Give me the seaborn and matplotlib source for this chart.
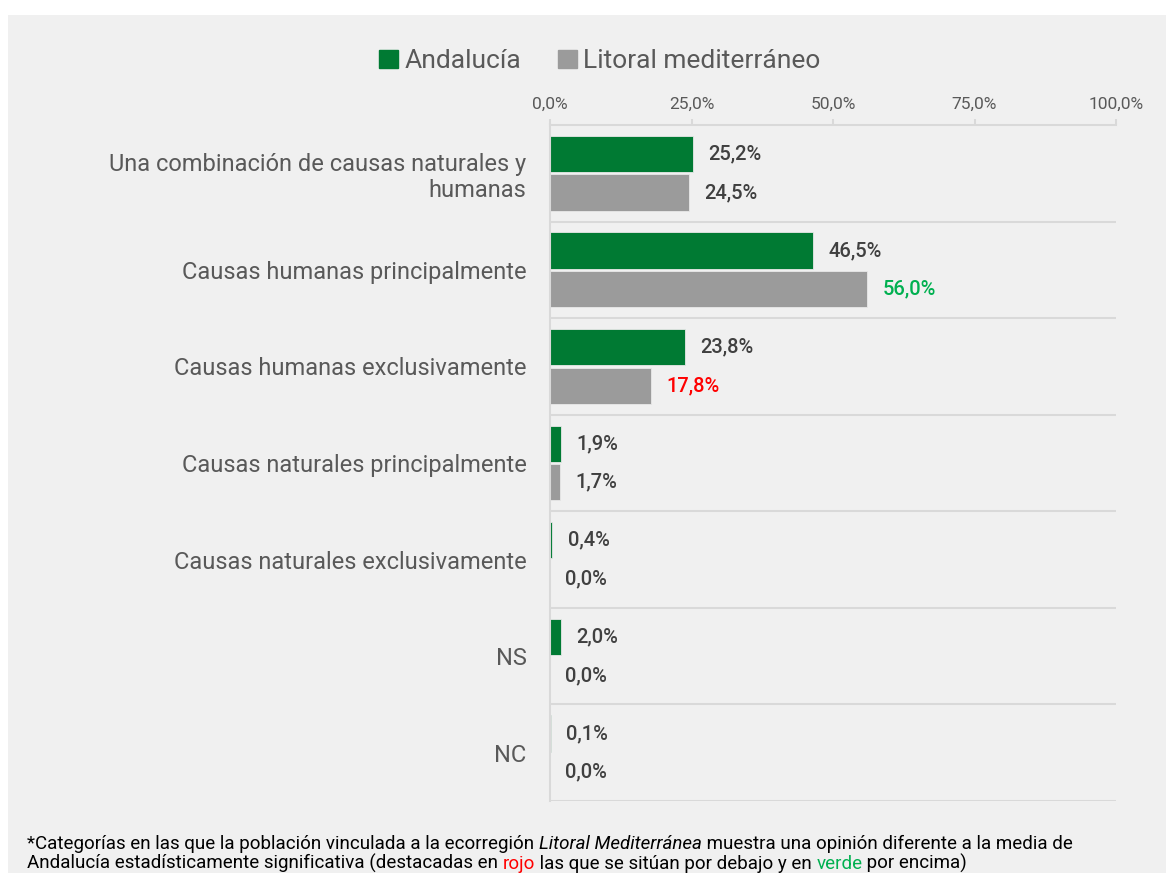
import matplotlib.pyplot as plt
import pandas as pd
import seaborn as sns
from matplotlib.patches import Patch, Rectangle

CATEGORIES = [
    "Una combinación de causas naturales y\nhumanas",
    "Causas humanas principalmente",
    "Causas humanas exclusivamente",
    "Causas naturales principalmente",
    "Causas naturales exclusivamente",
    "NS",
    "NC",
]
SERIES = ["Andalucía", "Litoral mediterráneo"]
ANDALUCIA = [25.2, 46.5, 23.8, 1.9, 0.4, 2.0, 0.1]
LITORAL = [24.5, 56.0, 17.8, 1.7, 0.0, 0.0, 0.0]
# Litoral vs Andalucía: 1 = significantly above, -1 = below, 0 = no difference
LITORAL_SIG = [0, 1, -1, 0, 0, 0, 0]
TICKS = [0, 25, 50, 75, 100]

GREEN = "#007a33"
GREY = "#9b9b9b"
BG = "#f0f0f0"
LINE = "#d9d9d9"
TXT = "#595959"
VAL = "#404040"
SIG_COLORS = {1: "#00b050", -1: "#ff0000", 0: VAL}

sns.set_theme(style="white")
plt.rcParams["font.family"] = ["Roboto", "DejaVu Sans"]

df = pd.DataFrame({
    "cat": CATEGORIES * 2,
    "serie": [SERIES[0]] * len(CATEGORIES) + [SERIES[1]] * len(CATEGORIES),
    "value": ANDALUCIA + LITORAL,
})

fig = plt.figure(figsize=(11.66, 8.73), dpi=100, facecolor="white")
fig.patches.append(Rectangle((8 / 1166, 0), 1, 1 - 15 / 873, transform=fig.transFigure,
                             facecolor=BG, edgecolor="none", zorder=-10))
ax = fig.add_axes([550 / 1166, 1 - 801 / 873, 566 / 1166, (801 - 125) / 873])
ax.set_facecolor(BG)

sns.barplot(data=df, y="cat", x="value", hue="serie", orient="h",
            palette=[GREEN, GREY], saturation=1, width=0.8, gap=0.06,
            legend=False, edgecolor="#e8e8e8", linewidth=0.6, ax=ax)

ax.set_xlim(0, 100)
ax.set_ylim(len(CATEGORIES) - 0.5, -0.5)
ax.set_xlabel("")
ax.set_ylabel("")
ax.xaxis.tick_top()
ax.set_xticks(TICKS)
ax.set_xticklabels([f"{t:.1f}%".replace(".", ",") for t in TICKS])
ax.tick_params(axis="x", length=4.5, width=1.5, color=LINE, labelcolor=TXT,
               labelsize=12.5, pad=5)
ax.tick_params(axis="y", length=0, labelcolor=TXT, labelsize=17, pad=17)
for side in ["right", "bottom"]:
    ax.spines[side].set_visible(False)
for side in ["top", "left"]:
    ax.spines[side].set_color(LINE)
    ax.spines[side].set_linewidth(1.5)
ax.hlines([i + 0.5 for i in range(len(CATEGORIES))], 0, 100, colors=LINE,
          linewidth=1.5, zorder=0)

# value labels
for container, values, sig in zip(ax.containers, [ANDALUCIA, LITORAL],
                                  [[0] * len(CATEGORIES), LITORAL_SIG]):
    labels = [f"{v:.1f}%".replace(".", ",") for v in values]
    texts = ax.bar_label(container, labels=labels, padding=11, fontsize=14.5,
                         fontweight="medium", color=VAL)
    for t, s in zip(texts, sig):
        t.set_color(SIG_COLORS[s])

fig.legend(handles=[Patch(color=GREEN), Patch(color=GREY)], labels=SERIES,
           loc="center", bbox_to_anchor=(600 / 1166, 1 - 61 / 873), ncol=2,
           frameon=False, fontsize=19, labelcolor=TXT, handlelength=0.7,
           handleheight=0.7, handletextpad=0.25, columnspacing=1.4)

# footnote with mixed styles
def chain(pieces, x, y):
    prev = fig.text(x, y, pieces[0][0], fontsize=13.5, color="black",
                    va="bottom", ha="left", **pieces[0][1])
    for txt, kw in pieces[1:]:
        prev = ax.annotate(txt, xy=(1, 0), xycoords=prev, va="bottom", ha="left",
                           fontsize=13.5, color=kw.pop("color", "black"),
                           annotation_clip=False, **kw)

chain([("*Categorías en las que la población vinculada a la ecorregión ", {}),
       ("Litoral Mediterránea", {"style": "italic"}),
       (" muestra una opinión diferente a la media de", {})],
      27 / 1166, 1 - 853 / 873)
chain([("Andalucía estadísticamente significativa (destacadas en ", {}),
       ("rojo", {"color": "#ff0000"}),
       (" las que se sitúan por debajo y en ", {}),
       ("verde", {"color": "#00b050"}),
       (" por encima)", {})],
      27 / 1166, 1 - 873 / 873)

fig.savefig("out.png", dpi=100, facecolor="white")
